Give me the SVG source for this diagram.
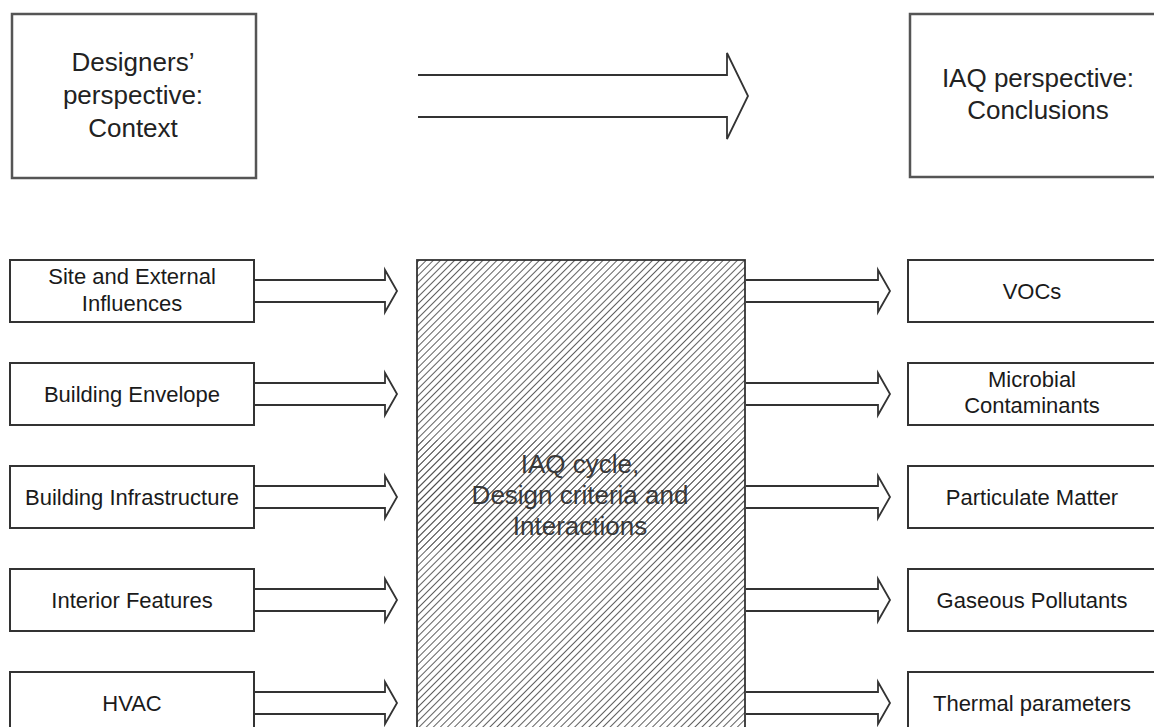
<svg xmlns="http://www.w3.org/2000/svg" width="1154" height="727" viewBox="0 0 1154 727">
<style>
.box{fill:#fff;stroke:#333;stroke-width:2}
.tbox{fill:#fff;stroke:#555;stroke-width:2.5}
.arr{fill:none;stroke:#333;stroke-width:1.8;stroke-linejoin:miter}
.t{font-family:"Liberation Sans",Arial,sans-serif;font-size:22px;fill:#1a1a1a;text-anchor:middle}
.tl{font-family:"Liberation Sans",Arial,sans-serif;font-size:26px;fill:#222;text-anchor:middle}
.th{font-family:"Liberation Sans",Arial,sans-serif;font-size:26px;fill:#3a3a3a;text-anchor:middle}
</style>
<defs>
<pattern id="hatch" patternUnits="userSpaceOnUse" width="5" height="10" patternTransform="rotate(45)">
<line x1="0" y1="-1" x2="0" y2="11" stroke="#2a2a2a" stroke-width="1.5"/>
</pattern>
</defs>
<rect width="1154" height="727" fill="#fff"/>

<g id="designers">
<rect class="tbox" x="12" y="14" width="244" height="164"/>
<text class="tl" x="133" y="71">Designers’</text>
<text class="tl" x="133" y="104">perspective:</text>
<text class="tl" x="133" y="137">Context</text>
</g>

<g id="iaq-perspective">
<rect class="tbox" x="910" y="14" width="260" height="163"/>
<text class="tl" x="1038" y="87">IAQ perspective:</text>
<text class="tl" x="1038" y="119">Conclusions</text>
</g>

<g id="iaq-cycle">
<rect x="417" y="260" width="328" height="480" fill="#fff" stroke="#333" stroke-width="1.8"/>
<rect x="417" y="260" width="328" height="480" fill="url(#hatch)"/>
<text class="th" x="580" y="473">IAQ cycle,</text>
<text class="th" x="580" y="504">Design criteria and</text>
<text class="th" x="580" y="535">Interactions</text>
<rect x="418" y="440" width="326" height="110" fill="url(#hatch)" opacity="0.55"/>
</g>

<g id="site"><rect class="box" x="10" y="260" width="244" height="62"/>
<text class="t" x="132" y="284">Site and External</text><text class="t" x="132" y="311">Influences</text></g>
<g id="envelope"><rect class="box" x="10" y="363" width="244" height="62"/>
<text class="t" x="132" y="402">Building Envelope</text></g>
<g id="infrastructure"><rect class="box" x="10" y="466" width="244" height="62"/>
<text class="t" x="132" y="505">Building Infrastructure</text></g>
<g id="interior"><rect class="box" x="10" y="569" width="244" height="62"/>
<text class="t" x="132" y="608">Interior Features</text></g>
<g id="hvac"><rect class="box" x="10" y="672" width="244" height="62"/>
<text class="t" x="132" y="711">HVAC</text></g>

<g id="vocs"><rect class="box" x="908" y="260" width="250" height="62"/>
<text class="t" x="1032" y="299">VOCs</text></g>
<g id="microbial"><rect class="box" x="908" y="363" width="250" height="62"/>
<text class="t" x="1032" y="387">Microbial</text><text class="t" x="1032" y="413">Contaminants</text></g>
<g id="particulate"><rect class="box" x="908" y="466" width="250" height="62"/>
<text class="t" x="1032" y="505">Particulate Matter</text></g>
<g id="gaseous"><rect class="box" x="908" y="569" width="250" height="62"/>
<text class="t" x="1032" y="608">Gaseous Pollutants</text></g>
<g id="thermal"><rect class="box" x="908" y="672" width="250" height="62"/>
<text class="t" x="1032" y="711">Thermal parameters</text></g>

<g id="connectors">
<path class="arr" d="M418,75 H727 V53 L748,96 L727,139 V117 H418"/>
<path class="arr" d="M255,280 H385 V270 L397,291 L385,312 V302 H255"/>
<path class="arr" d="M255,383 H385 V373 L397,394 L385,415 V405 H255"/>
<path class="arr" d="M255,486 H385 V476 L397,497 L385,518 V508 H255"/>
<path class="arr" d="M255,589 H385 V579 L397,600 L385,621 V611 H255"/>
<path class="arr" d="M255,692 H385 V682 L397,703 L385,724 V714 H255"/>
<path class="arr" d="M746,280 H878 V270 L890,291 L878,312 V302 H746"/>
<path class="arr" d="M746,383 H878 V373 L890,394 L878,415 V405 H746"/>
<path class="arr" d="M746,486 H878 V476 L890,497 L878,518 V508 H746"/>
<path class="arr" d="M746,589 H878 V579 L890,600 L878,621 V611 H746"/>
<path class="arr" d="M746,692 H878 V682 L890,703 L878,724 V714 H746"/>
</g>
</svg>
